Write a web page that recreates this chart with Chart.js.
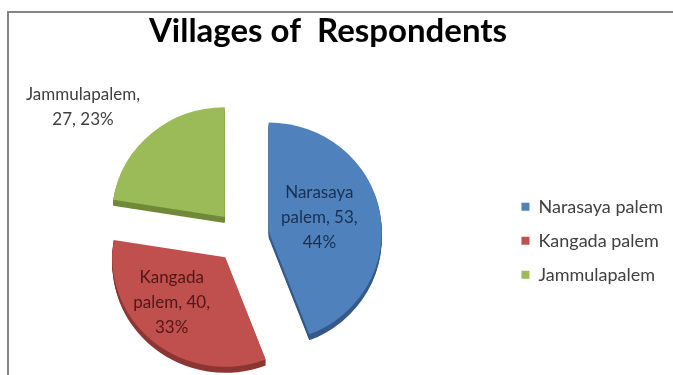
<!DOCTYPE html>
<html>
<head>
<meta charset="utf-8">
<script src="https://cdn.jsdelivr.net/npm/chart.js@4.4.1/dist/chart.umd.min.js"></script>
<style>
  html, body { margin: 0; padding: 0; background: #ffffff; width: 673px; height: 375px; overflow: hidden; }
  #frame { position: absolute; left: 7px; top: 11px; width: 720px; height: 420px;
           border-top: 2px solid #858585; border-left: 2px solid #858585; }
  #chart { position: absolute; left: -21px; top: 0; }
</style>
</head>
<body>
<div id="frame"></div>
<canvas id="chart" width="694" height="375"></canvas>
<script>
// Respondents per village
const villages = ['Narasaya palem', 'Kangada palem', 'Jammulapalem'];
const respondents = [53, 40, 27];

// Styling
const sliceColors = ['#4F81BD', '#C0504D', '#9BBB59'];
const wallColors  = ['#36598a', '#8c3633', '#6f8a3a'];
const labelColors = ['#1b2f4f', '#4f1715', '#404040'];
const labelWrapWidth = [90, 90, 135];
const labelNudge = [[-5, -5], [-18, 3], [-105, -68]];

const EXPLODE = 27;   // distance each slice is pulled out from the centre
const DEPTH = 6;      // thickness of the pie's side wall
const TILT = 0.97;    // vertical squash for the tilted look
const TITLE_SHIFT = 2;
const LABEL_FONT = '17px Lato';
const LABEL_LINE = 25;

function sliceShift(el) {
  const mid = (el.startAngle + el.endAngle) / 2;
  return { dx: Math.cos(mid) * EXPLODE, dy: Math.sin(mid) * EXPLODE };
}

function wrapText(ctx, text, maxWidth) {
  const words = text.split(' ');
  const lines = [];
  let line = '';
  words.forEach(w => {
    const trial = line ? line + ' ' + w : w;
    if (line && ctx.measureText(trial).width > maxWidth) {
      lines.push(line);
      line = w;
    } else {
      line = trial;
    }
  });
  if (line) lines.push(line);
  return lines;
}

// Draws the exploded, tilted pie with a side wall under each slice
const tiltedPie = {
  id: 'tiltedPie',
  afterLayout(chart) {
    const t = chart.titleBlock;
    if (t) { t.left += TITLE_SHIFT; t.right += TITLE_SHIFT; }
  },
  beforeDatasetDraw(chart, args) {
    const ctx = chart.ctx;
    const arcs = args.meta.data;
    if (!arcs.length) return;
    const cx = arcs[0].x, cy = arcs[0].y;
    ctx.save();
    ctx.translate(cx, cy);
    ctx.scale(1, TILT);
    ctx.translate(-cx, -cy);
    arcs.forEach((el, i) => {
      const { dx, dy } = sliceShift(el);
      const base = el.options;
      el.options = Object.assign({}, base, { backgroundColor: wallColors[i], borderColor: wallColors[i] });
      for (let k = DEPTH; k >= 1; k--) {
        ctx.save();
        ctx.translate(dx, dy + k / TILT);
        el.draw(ctx);
        ctx.restore();
      }
      el.options = base;
    });
    arcs.forEach(el => {
      const { dx, dy } = sliceShift(el);
      ctx.save();
      ctx.translate(dx, dy);
      el.draw(ctx);
      ctx.restore();
    });
    ctx.restore();
    return false;
  },
  afterDatasetsDraw(chart) {
    const ctx = chart.ctx;
    const arcs = chart.getDatasetMeta(0).data;
    if (!arcs.length) return;
    const total = respondents.reduce((a, b) => a + b, 0);
    const cy = arcs[0].y;
    ctx.save();
    ctx.font = LABEL_FONT;
    ctx.textAlign = 'center';
    ctx.textBaseline = 'middle';
    arcs.forEach((el, i) => {
      const pos = el.tooltipPosition(true);
      const { dx, dy } = sliceShift(el);
      const x = pos.x + dx + labelNudge[i][0];
      const y = cy + (pos.y + dy - cy) * TILT + labelNudge[i][1];
      const pct = Math.round(respondents[i] * 100 / total);
      const text = villages[i] + ', ' + respondents[i] + ', ' + pct + '%';
      const lines = wrapText(ctx, text, labelWrapWidth[i]);
      ctx.fillStyle = labelColors[i];
      const y0 = y - (lines.length - 1) * LABEL_LINE / 2;
      lines.forEach((ln, j) => ctx.fillText(ln, x, y0 + j * LABEL_LINE));
    });
    ctx.restore();
  }
};

new Chart(document.getElementById('chart'), {
  type: 'pie',
  data: {
    labels: villages,
    datasets: [{
      data: respondents,
      backgroundColor: sliceColors,
      borderWidth: 0,
      radius: 113
    }]
  },
  options: {
    responsive: false,
    animation: false,
    events: [],
    layout: { padding: { left: 0, right: 0, top: 0, bottom: 5 } },
    plugins: {
      title: {
        display: true,
        text: 'Villages of  Respondents',
        color: '#000000',
        font: { family: 'Lato', size: 33, weight: 'bold', lineHeight: 1.2 },
        padding: { top: 12, bottom: 52 }
      },
      legend: {
        position: 'right',
        fullSize: false,
        title: { display: true, text: ' ', font: { size: 6, lineHeight: 1 }, padding: { top: 1, bottom: 1 } },
        labels: {
          boxWidth: 8,
          boxHeight: 8,
          padding: 16,
          color: '#404040',
          font: { family: 'Lato', size: 18 }
        }
      },
      tooltip: { enabled: false }
    }
  },
  plugins: [tiltedPie]
});
</script>
</body>
</html>
